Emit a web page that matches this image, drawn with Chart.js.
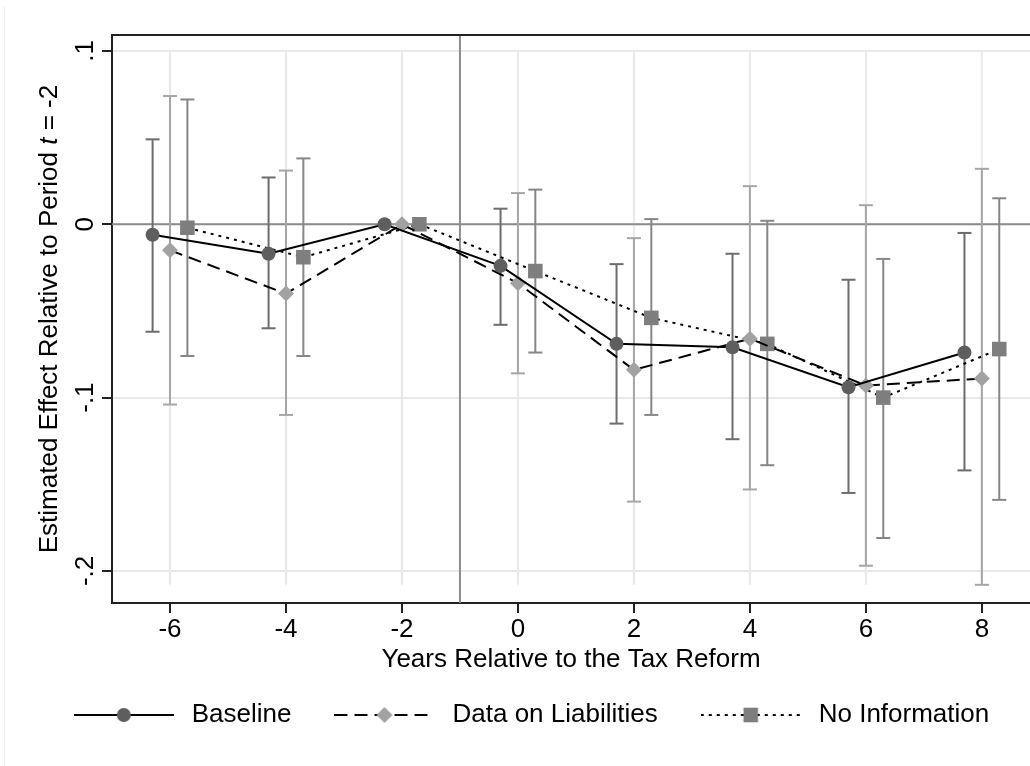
<!DOCTYPE html>
<html>
<head>
<meta charset="utf-8">
<script src="https://cdn.jsdelivr.net/npm/chart.js@4/dist/chart.umd.min.js"></script>
<style>
  html, body { margin: 0; padding: 0; background: #fff; overflow: hidden; }
  #wrap { position: relative; width: 1030px; height: 766px; }
  #edge { position: absolute; left: 4px; top: 7px; bottom: 0; border-left: 1px solid #ececec; }
</style>
</head>
<body>
<div id="wrap"><div id="edge"></div><canvas id="chart" width="1030" height="766"></canvas></div>
<script>
// years relative to the reform (t = -2 is the reference period)
const years = [-6, -4, -2, 0, 2, 4, 6, 8];
const yTicks = [-0.2, -0.1, 0, 0.1];
const yTickLabels = ['-.2', '-.1', '0', '.1'];

const baseline   = [-0.006, -0.017, 0, -0.024, -0.069, -0.071, -0.094, -0.074];
const baselineLo = [-0.062, -0.060, 0, -0.058, -0.115, -0.124, -0.155, -0.142];
const baselineHi = [ 0.049,  0.027, 0,  0.009, -0.023, -0.017, -0.032, -0.005];

const liabilities   = [-0.015, -0.040, 0, -0.034, -0.084, -0.066, -0.093, -0.089];
const liabilitiesLo = [-0.104, -0.110, 0, -0.086, -0.160, -0.153, -0.197, -0.208];
const liabilitiesHi = [ 0.074,  0.031, 0,  0.018, -0.008,  0.022,  0.011,  0.032];

const noInfo   = [-0.002, -0.019, 0, -0.027, -0.054, -0.069, -0.100, -0.072];
const noInfoLo = [-0.076, -0.076, 0, -0.074, -0.110, -0.139, -0.181, -0.159];
const noInfoHi = [ 0.072,  0.038, 0,  0.020,  0.003,  0.002, -0.020,  0.015];

const reformLine = -1;

const FONT = '"Liberation Sans", Arial, Helvetica, sans-serif';
const FONT_SIZE = 26;

// styles per series (x shift keeps the three estimates apart)
const series = [
    { label: 'Baseline', values: baseline, lo: baselineLo, hi: baselineHi, shift: -0.3,
      marker: 'circle', radius: 7, fill: '#5e5e5e', ci: '#6c6c6c', dash: [] },
    { label: 'Data on Liabilities', values: liabilities, lo: liabilitiesLo, hi: liabilitiesHi, shift: 0,
      marker: 'rectRot', radius: 8, fill: '#a2a2a2', ci: '#a6a6a6', dash: [13, 7] },
    { label: 'No Information', values: noInfo, lo: noInfoLo, hi: noInfoHi, shift: 0.3,
      marker: 'rect', radius: 10.3, fill: '#7e7e7e', ci: '#868686', dash: [3, 5] }
];

function line(ctx, x1, y1, x2, y2) {
    ctx.beginPath();
    ctx.moveTo(x1, y1);
    ctx.lineTo(x2, y2);
    ctx.stroke();
}

// legend sample: dashed line with the marker in the middle
const sampleCache = {};
function sampleImage(s) {
    if (sampleCache[s.label]) return sampleCache[s.label];
    const c = document.createElement('canvas');
    c.width = 100;
    c.height = 26;
    const g = c.getContext('2d');
    g.strokeStyle = '#000';
    g.lineWidth = 2;
    g.setLineDash(s.dash);
    line(g, 0, 13, 100, 13);
    g.setLineDash([]);
    g.fillStyle = s.fill;
    g.strokeStyle = s.fill;
    if (Chart.helpers && Chart.helpers.drawPoint) {
        Chart.helpers.drawPoint(g, { pointStyle: s.marker, radius: s.radius, rotation: 0, borderWidth: 0 }, 50, 13);
    }
    sampleCache[s.label] = c;
    return c;
}

// grid, reference lines and confidence intervals under the lines
const backdrop = {
    id: 'backdrop',
    beforeDatasetsDraw(chart) {
        const { ctx, chartArea: a, scales: { x, y } } = chart;
        const minLo = Math.min(...baselineLo, ...liabilitiesLo, ...noInfoLo);
        ctx.save();
        ctx.lineWidth = 2;
        ctx.strokeStyle = '#e9e9e9';
        years.forEach(v => {
            const px = x.getPixelForValue(v);
            line(ctx, px, y.getPixelForValue(yTicks[yTicks.length - 1]), px, y.getPixelForValue(minLo));
        });
        ctx.strokeStyle = '#8c8c8c';
        line(ctx, a.left, y.getPixelForValue(0), a.right, y.getPixelForValue(0));
        const rx = x.getPixelForValue(reformLine);
        line(ctx, rx, a.top, rx, a.bottom);

        chart.data.datasets.forEach(ds => {
            ctx.strokeStyle = ds.ciColor;
            ds.data.forEach((pt, i) => {
                const lo = ds.ciLo[i], hi = ds.ciHi[i];
                if (lo === hi) return;
                const px = x.getPixelForValue(pt.x);
                const py1 = y.getPixelForValue(hi), py2 = y.getPixelForValue(lo);
                line(ctx, px, py1, px, py2);
                line(ctx, px - 7, py1, px + 7, py1);
                line(ctx, px - 7, py2, px + 7, py2);
            });
        });

        ctx.strokeStyle = '#222';
        line(ctx, a.left, a.top, a.right, a.top);
        ctx.restore();
    }
};

// y title with the italic t
const yTitle = {
    id: 'yTitle',
    afterDraw(chart) {
        const { ctx, chartArea: a } = chart;
        const parts = [
            ['Estimated Effect Relative to Period ', ''],
            ['t', 'italic '],
            [' = -2', '']
        ];
        ctx.save();
        ctx.translate(50, (a.top + a.bottom) / 2);
        ctx.rotate(-Math.PI / 2);
        ctx.fillStyle = '#000';
        ctx.textBaseline = 'middle';
        ctx.textAlign = 'left';
        let total = 0;
        parts.forEach(p => { ctx.font = p[1] + FONT_SIZE + 'px ' + FONT; total += ctx.measureText(p[0]).width; });
        let cx = -total / 2;
        parts.forEach(p => {
            ctx.font = p[1] + FONT_SIZE + 'px ' + FONT;
            ctx.fillText(p[0], cx, 0);
            cx += ctx.measureText(p[0]).width;
        });
        ctx.restore();
    }
};

Chart.defaults.font.family = FONT;
Chart.defaults.font.size = FONT_SIZE;
Chart.defaults.color = '#000';

new Chart(document.getElementById('chart'), {
    type: 'line',
    data: {
        datasets: series.map(s => ({
            label: s.label,
            data: years.map((yr, i) => ({ x: yr + s.shift, y: s.values[i] })),
            ciLo: s.lo,
            ciHi: s.hi,
            ciColor: s.ci,
            borderColor: '#000',
            borderWidth: 2,
            borderDash: s.dash,
            tension: 0,
            fill: false,
            pointStyle: s.marker,
            pointRadius: s.radius,
            pointBackgroundColor: s.fill,
            pointBorderColor: s.fill,
            pointBorderWidth: 0
        }))
    },
    options: {
        responsive: false,
        animation: false,
        devicePixelRatio: 1,
        layout: { autoPadding: false, padding: { left: 28, right: 0, top: 35, bottom: 28 } },
        scales: {
            x: {
                type: 'linear',
                min: -7,
                max: 8.83,
                afterBuildTicks: scale => { scale.ticks = years.map(v => ({ value: v })); },
                afterFit: scale => { scale.height = 61; scale.paddingLeft = 0; scale.paddingRight = 0; },
                ticks: { padding: 1, callback: v => String(v) },
                grid: { drawOnChartArea: false, drawTicks: true, tickLength: 10, tickColor: '#222', lineWidth: 2 },
                border: { color: '#222', width: 2 },
                title: { display: true, text: 'Years Relative to the Tax Reform', padding: { top: 0, bottom: -11.6 } }
            },
            y: {
                min: -0.2185,
                max: 0.1092,
                afterBuildTicks: scale => { scale.ticks = yTicks.map(v => ({ value: v })); },
                afterFit: scale => { scale.width = 84; scale.paddingTop = 0; scale.paddingBottom = 0; },
                ticks: { minRotation: 90, maxRotation: 90, crossAlign: 'center', padding: 1,
                         callback: (v, i) => yTickLabels[i] },
                grid: { color: '#e9e9e9', lineWidth: 2, tickLength: 10, tickColor: '#222' },
                border: { color: '#222', width: 2 }
            }
        },
        plugins: {
            tooltip: { enabled: false },
            legend: {
                position: 'bottom',
                onClick: null,
                labels: {
                    usePointStyle: true,
                    pointStyleWidth: 110,
                    padding: 38,
                    font: { size: FONT_SIZE },
                    generateLabels: chart => chart.data.datasets.map((ds, i) => ({
                        text: ds.label,
                        pointStyle: sampleImage(series[i]),
                        datasetIndex: i,
                        hidden: false,
                        fillStyle: 'rgba(0,0,0,0)',
                        strokeStyle: 'rgba(0,0,0,0)',
                        lineWidth: 0,
                        fontColor: '#000'
                    }))
                }
            }
        }
    },
    plugins: [backdrop, yTitle]
});
</script>
</body>
</html>
